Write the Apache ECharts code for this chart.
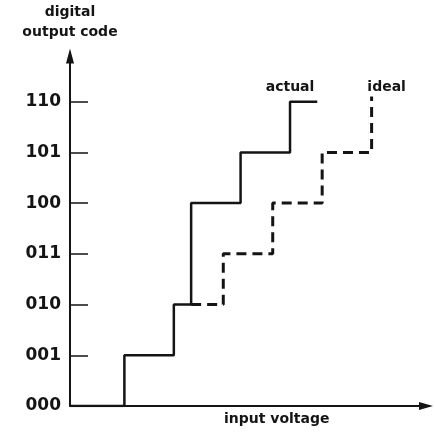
<!DOCTYPE html>
<html>
<head>
<meta charset="utf-8">
<script src="https://cdn.jsdelivr.net/npm/echarts@6/dist/echarts.min.js"></script>
<style>
html,body{margin:0;padding:0;background:#fff;}
#chart{width:435px;height:432px;}
</style>
</head>
<body>
<div id="chart"></div>
<script>
// Output codes (tick labels for the y axis, index = code value)
var tickLabels = ['000', '001', '010', '011', '100', '101', '110'];
var tickValues = [0, 1, 2, 3, 4, 5, 6];
// Actual converter transfer curve: [input (LSB units), code]
var actualData = [[0, 0], [1.1, 1], [2.1, 2], [2.45, 4], [3.45, 5], [4.45, 6], [5.0, 6]];
// Ideal transfer curve (dashed part where it departs from actual)
var idealData = [[2.45, 2], [3.1, 3], [4.1, 4], [5.1, 5], [6.1, 6.1]];
var seriesNames = ['actual', 'ideal'];
var axisTitles = { y: 'digital\noutput code', x: 'input voltage' };

var ink = '#141414';
var font = 'DejaVu Sans';

var chart = echarts.init(document.getElementById('chart'), null, { renderer: 'canvas' });

var actualSeries = actualData.map(function (p, i) {
  if (i === 5) {
    return { value: p, label: { show: true, formatter: seriesNames[0], position: 'top', distance: 7 } };
  }
  return p;
});
var idealSeries = idealData.map(function (p, i) {
  if (i === idealData.length - 1) {
    return { value: p, label: { show: true, formatter: seriesNames[1], position: 'top', distance: 2, offset: [15, 0] } };
  }
  return p;
});

var labelStyle = { show: false, color: ink, fontFamily: font, fontSize: 14, fontWeight: 'bold' };

chart.setOption({
  animation: false,
  backgroundColor: '#fff',
  title: {
    text: axisTitles.x,
    left: 224,
    top: 412,
    padding: 0,
    textStyle: { color: ink, fontFamily: font, fontSize: 14, fontWeight: 'bold' }
  },
  grid: { left: 70, right: 9, top: 56, bottom: 26, containLabel: false },
  xAxis: {
    type: 'value',
    min: 0,
    max: 7.2,
    axisLine: {
      show: true,
      symbol: ['none', 'triangle'],
      symbolSize: [8, 14],
      lineStyle: { color: ink, width: 2 }
    },
    axisTick: { show: false },
    axisLabel: { show: false },
    splitLine: { show: false }
  },
  yAxis: {
    type: 'value',
    min: 0,
    max: 6.9,
    interval: 1,
    name: axisTitles.y,
    nameLocation: 'end',
    nameGap: 14,
    nameTextStyle: {
      color: ink, fontFamily: font, fontSize: 14, fontWeight: 'bold',
      lineHeight: 20, align: 'center'
    },
    axisLine: {
      show: true,
      symbol: ['none', 'triangle'],
      symbolSize: [8, 15],
      lineStyle: { color: ink, width: 2 }
    },
    axisTick: {
      show: true, inside: true, length: 18,
      customValues: tickValues.slice(1),
      lineStyle: { color: ink, width: 1.5 }
    },
    axisLabel: {
      show: true,
      margin: 9,
      color: ink,
      fontFamily: font,
      fontSize: 17,
      fontWeight: 'bold',
      customValues: tickValues,
      formatter: function (v) {
        var i = Math.round(v);
        return (Math.abs(v - i) < 1e-6 && tickLabels[i] !== undefined) ? tickLabels[i] : '';
      }
    },
    splitLine: { show: false }
  },
  series: [
    {
      name: seriesNames[0],
      type: 'line',
      step: 'end',
      data: actualSeries,
      symbol: 'circle',
      symbolSize: 0,
      showSymbol: true,
      lineStyle: { color: ink, width: 2.5 },
      itemStyle: { color: ink },
      label: labelStyle,
      z: 3
    },
    {
      name: seriesNames[1],
      type: 'line',
      step: 'end',
      data: idealSeries,
      symbol: 'circle',
      symbolSize: 0,
      showSymbol: true,
      lineStyle: { color: ink, width: 3, type: [10, 6] },
      itemStyle: { color: ink },
      label: labelStyle,
      z: 2
    }
  ]
});
</script>
</body>
</html>
